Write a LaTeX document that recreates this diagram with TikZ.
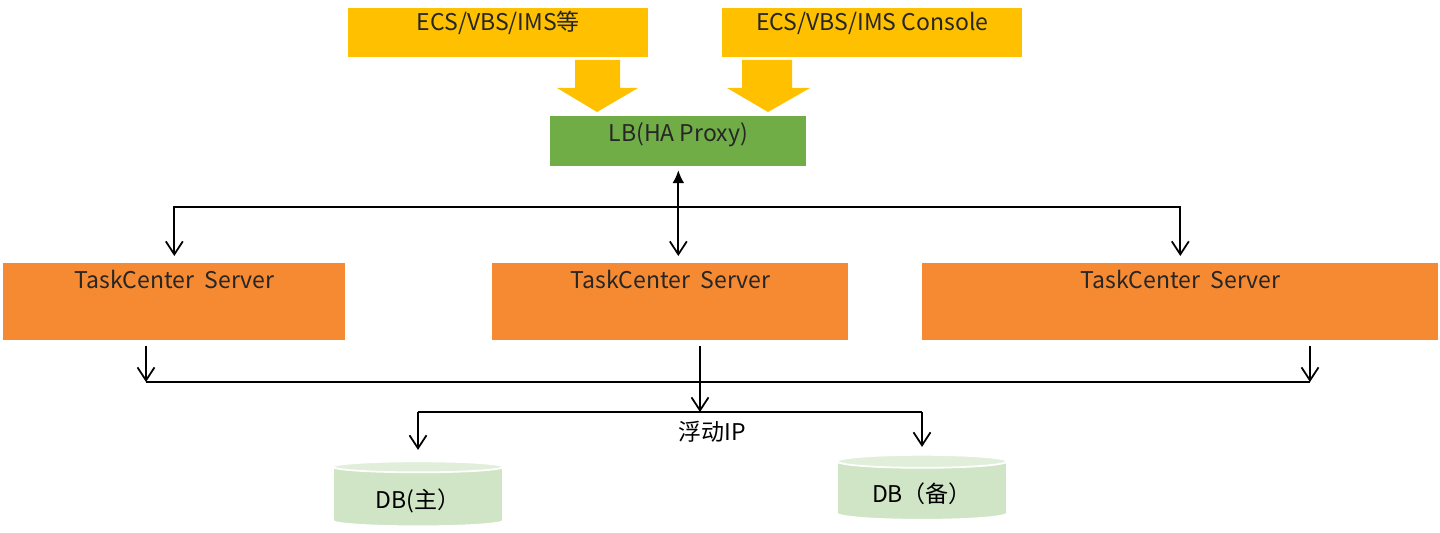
\documentclass[tikz,border=0pt]{standalone}
\usepackage{fontspec}
\setmainfont{Noto Sans CJK SC}
\usetikzlibrary{arrows.meta,positioning,shapes.geometric}

\definecolor{srcyellow}{HTML}{FFC000}
\definecolor{lbgreen}{HTML}{70AD47}
\definecolor{tcorange}{HTML}{F58A32}
\definecolor{dbbody}{HTML}{CFE5C6}
\definecolor{dbtop}{HTML}{E1EFDA}

\begin{document}
\begin{tikzpicture}[
  x=0.02cm, y=-0.02cm,
  font=\fontsize{13.1}{15}\selectfont,
  box/.style={anchor=north west,inner xsep=0pt,inner ysep=0pt,text=black!85},
  srcbox/.style={box,fill=srcyellow,minimum width=6cm,text height=0.44cm,text depth=0.54cm},
  lbbox/.style={box,fill=lbgreen,minimum width=5.12cm,text height=0.5cm,text depth=0.5cm},
  server/.style={box,fill=tcorange,text height=0.5cm,text depth=1.04cm},
  db/.style={cylinder,shape border rotate=90,aspect=0.13,draw=white,line width=1pt,
    cylinder uses custom fill,cylinder body fill=dbbody,cylinder end fill=dbtop,
    minimum width=3.4cm,minimum height=1.3cm,inner sep=0pt,
    text height=0.55cm,text depth=0.1cm},
  line/.style={draw=black,line width=1pt},
  link/.style={line,shorten <=3pt,-{Straight Barb[length=2.6mm,width=3.4mm]}}
]
  \useasboundingbox (0,0) rectangle (1440,533);

  % callers and load balancer
  \node[srcbox] (src1) at (348,8) {ECS/VBS/IMS等};
  \node[srcbox,minimum width=6cm] (src2) at (722,8) {ECS/VBS/IMS Console};
  \node[lbbox] (lb) at (550,116) {LB(HA Proxy)};

  \fill[srcyellow] (575,60) -- (620,60) -- (620,88) -- (638,88) -- (597,112)
    -- (557,88) -- (575,88) -- cycle;
  \fill[srcyellow] (742,60) -- (792,60) -- (792,88) -- (810,88) -- (768,112)
    -- (727,88) -- (742,88) -- cycle;

  % task center servers
  \node[server,minimum width=6.84cm] (tc1) at (3,263) {TaskCenter\ \ Server};
  \node[server,minimum width=7.12cm] (tc2) at (492,263) {TaskCenter\ \ Server};
  \node[server,minimum width=10.32cm] (tc3) at (922,263) {TaskCenter\ \ Server};

  % databases
  \node[db] (db1) at (418,497) {DB(主）};
  \node[db] (db2) at (922,491) {DB（备）};
  \node (fip) at (712,432) {浮动IP};

  \coordinate (hub) at (677,207);
  \coordinate (d1) at (146,382);
  \coordinate (d3) at (1310,382);
  \coordinate (vip) at (700,412);

  \draw[line,{Latex[length=2.6mm,width=2.4mm]}-{Straight Barb[length=2.6mm,width=3.4mm]},
    shorten <=2pt,shorten >=4pt] (lb.south) -- (lb.south |- tc2.north);
  \draw[link,shorten <=0pt,shorten >=4pt] (hub) -| (tc1.north);
  \draw[link,shorten <=0pt,shorten >=4pt] (hub) -| (tc3.north);

  \draw[link] (d1 |- tc1.south) -- (d1);
  \draw[link] (d3 |- tc3.south) -- (d3);
  \draw[line] (d1) -- (d3);
  \draw[link] (vip |- tc2.south) -- (vip);

  \draw[line] (db1.north |- vip) -- (db2.north |- vip);
  \draw[link,shorten <=0pt,shorten >=6pt] (db1.north |- vip) -- (db1.north);
  \draw[link,shorten <=0pt,shorten >=4pt] (db2.north |- vip) -- (db2.north);
\end{tikzpicture}
\end{document}
